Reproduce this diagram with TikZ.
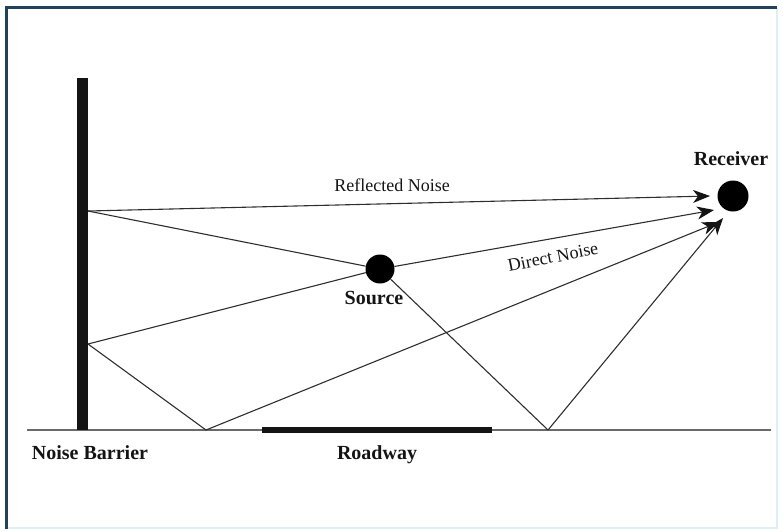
\documentclass[tikz,border=0pt]{standalone}
\usepackage{fontspec}
\setmainfont{Liberation Serif}
\usetikzlibrary{arrows.meta}
\definecolor{framedark}{HTML}{23415A}
\definecolor{framelight}{HTML}{DCEFF5}
\definecolor{raycol}{HTML}{2E2E2E}
\definecolor{groundcol}{HTML}{6A6A6A}
\definecolor{solidblack}{HTML}{141414}
\begin{document}
\begin{tikzpicture}[x=1pt,y=-1pt,
  ray/.style={draw=raycol,line width=1.1pt},
  arr/.style={ray,-{Stealth[length=17pt,width=13pt,inset=5pt,fill=solidblack,color=solidblack]}},
  dot/.style={circle,fill=black,inner sep=0pt},
  boldlbl/.style={font=\fontsize{20}{22}\selectfont\bfseries,text=solidblack,anchor=base,inner sep=0pt},
  lbl/.style={font=\fontsize{18}{20}\selectfont,text=solidblack,anchor=base,inner sep=0pt}]
\useasboundingbox (0,0) rectangle (783,531);
% frame
\draw[framelight,line width=2pt] (777,7.5) -- (777,528) -- (6.5,528);
\draw[framedark,line width=2.5pt] (6.5,529) -- (6.5,7.5) -- (777,7.5);
% ground and roadway
\draw[groundcol,line width=1.4pt] (27,430) -- (771,430);
\fill[solidblack] (262,427) rectangle (492,433);
% barrier
\fill[solidblack] (77,78) rectangle (88,430);
% points
\coordinate (B1) at (88,211);
\coordinate (B2) at (88,344);
\coordinate (G1) at (206,430);
\coordinate (G2) at (548,430);
\coordinate (T1) at (710,196);
\coordinate (T2) at (714,210);
\coordinate (T3) at (719,222);
\coordinate (T4) at (723,218);
\node[dot,minimum size=29pt] (src) at (380,269) {};
\node[dot,minimum size=31pt] (rcv) at (733,196) {};
% rays
\draw[ray] (src) -- (B1);
\draw[ray] (src) -- (B2);
\draw[ray] (src) -- (G2);
\draw[ray] (B2) -- (G1);
\draw[arr] (B1) -- (T1);
\draw[arr] (src) -- (T2);
\draw[arr] (G1) -- (T3);
\draw[arr] (G2) -- (T4);
% labels
\node[lbl] (lref) at (392,191) {Reflected Noise};
\node[lbl,anchor=center,rotate=11] (ldir) at (553,257) {Direct Noise};
\node[boldlbl] (lsrc) at (374,304) {Source};
\node[boldlbl] (lrcv) at (731,165) {Receiver};
\node[boldlbl] (lbar) at (90,459) {Noise Barrier};
\node[boldlbl] (lroad) at (377,459) {Roadway};
\end{tikzpicture}
\end{document}
